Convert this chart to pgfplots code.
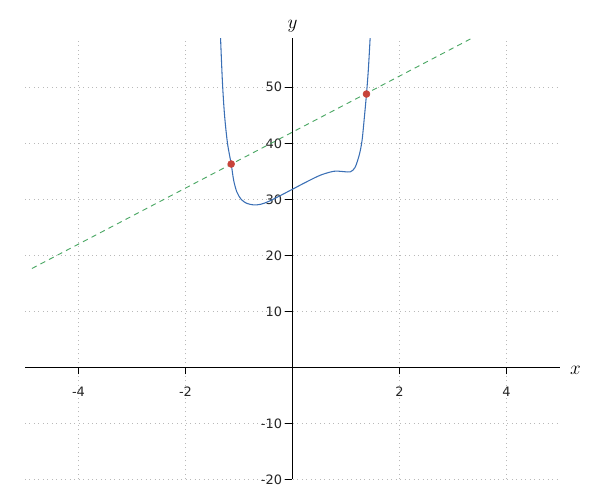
\documentclass[border=0pt]{standalone}
\usepackage{fontspec}
\setmainfont{DejaVu Sans}
\usepackage{pgfplots}
\pgfplotsset{compat=1.18}

\definecolor{curveblue}{HTML}{3A6FB5}
\definecolor{lineggreen}{HTML}{4CA865}
\definecolor{ptred}{HTML}{C8433A}

\begin{document}
\begin{tikzpicture}
\begin{axis}[
  scale only axis,
  width=401.25pt, height=331pt,
  xmin=-5, xmax=5, ymin=-20, ymax=58.8,
  axis lines=middle,
  axis line style={-, black, line width=0.9pt},
  xtick={-4,-2,2,4},
  ytick={-20,-10,10,20,30,40,50},
  tick align=outside,
  major tick length=5.25pt,
  tick style={black, line width=0.9pt},
  grid=major,
  grid style={gray!55, line width=0.6pt, dash pattern=on 0.75pt off 2.6pt},
  /pgf/number format/assume math mode=true,
  ticklabel style={font=\fontsize{9.7}{11}\selectfont, text=black!85},
  xticklabel style={yshift=-6pt},
  yticklabel style={xshift=1pt},
  xlabel={$x$}, ylabel={$y$},
  xlabel style={at={(axis cs:5,0)}, anchor=west, xshift=4pt, yshift=-2pt, font=\fontsize{15}{17}\selectfont},
  ylabel style={at={(axis cs:0,58.8)}, anchor=south, yshift=1pt, font=\fontsize{15}{17}\selectfont},
  clip=true,
]
% line y = 5x + 42
\addplot[lineggreen, line width=0.7pt, dash pattern=on 4pt off 3.2pt] coordinates {(-4.87,17.65) (3.44,59.2)};
\addplot[curveblue, line width=0.8pt, smooth, tension=0.5] coordinates {
(-1.350,60.0) (-1.310,51.0) (-1.270,45.0) (-1.215,40.0) (-1.146,36.3)
(-1.100,33.4) (-1.040,31.3) (-0.960,30.0) (-0.860,29.3) (-0.730,29.0)
(-0.600,29.1) (-0.450,29.6) (-0.200,30.8) (0.000,31.8) (0.240,33.0)
(0.520,34.3) (0.770,35.0) (0.950,34.95) (1.080,34.9) (1.170,35.7)
(1.250,38.0) (1.300,40.5) (1.340,44.3) (1.383,48.8) (1.420,53.5) (1.458,60.0)
};
\addplot[only marks, mark=*, mark size=2.6pt, ptred, draw=ptred] coordinates {(-1.146,36.3) (1.383,48.8)};
\end{axis}
\path (current axis.south west) ++(-18.75pt,-15.5pt) rectangle ++(450pt,375pt);
\end{tikzpicture}
\end{document}
